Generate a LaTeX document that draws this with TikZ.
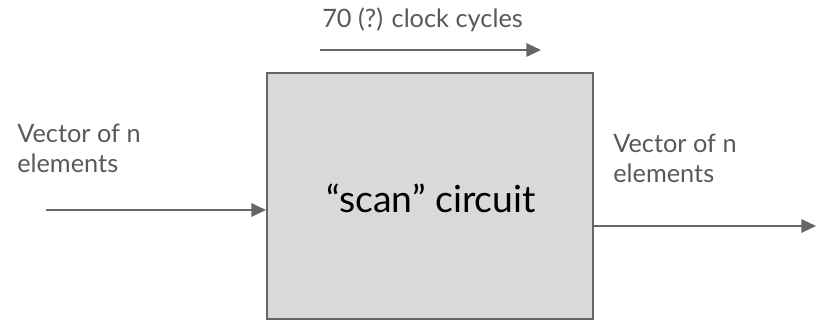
\documentclass[tikz,border=0pt]{standalone}
\usepackage{fontspec}
\setmainfont{Lato}
\usetikzlibrary{arrows.meta}
\definecolor{ink}{HTML}{595959}
\definecolor{edge}{HTML}{666666}
\definecolor{boxfill}{HTML}{D9D9D9}
\begin{document}
\begin{tikzpicture}[x=0.75pt,y=0.75pt,
  label/.style={text=ink,font=\fontsize{19}{22.5}\selectfont,inner sep=0pt,align=left},
  flow/.style={draw=edge,line width=1.5pt,-{Triangle[length=11pt,width=10pt]}},
  block/.style={draw=edge,line width=1.5pt,fill=boxfill,minimum width=326*0.75pt,minimum height=246*0.75pt,inner sep=0pt}]
\useasboundingbox (0,0) rectangle (821,320);
% the circuit block
\node[block] (scan) at (430,124) {};
\node[text=black,font=\fontsize{28}{32}\selectfont,inner sep=0pt,anchor=base] (title) at (431,107) {“scan” circuit};
% timing annotation
\node[label,anchor=base west] (cycles) at (322,292) {70 (?) clock cycles};
\coordinate (t0) at (320,270);
\coordinate (t1) at (541,270);
\draw[flow] (t0) -- (t1);
% input
\node[label,anchor=base west] (inlabel) at (17,147) {Vector of n\\elements};
\coordinate (in0) at (46,110);
\draw[flow] (in0) -- (in0 -| scan.west);
% output
\node[label,anchor=base west] (outlabel) at (613,137) {Vector of n\\elements};
\coordinate (out1) at (816,94);
\draw[flow] (out1 -| scan.east) -- (out1);
\end{tikzpicture}
\end{document}
